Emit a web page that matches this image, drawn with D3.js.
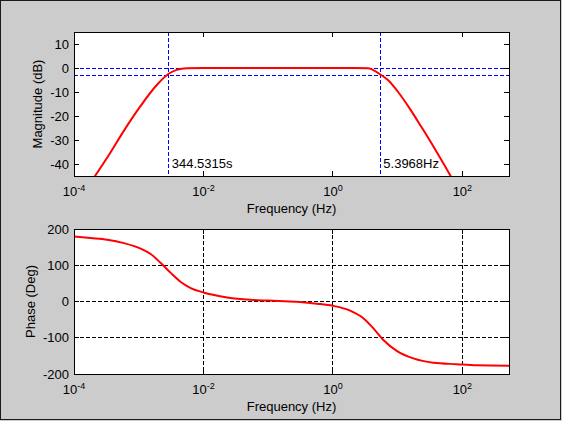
<!DOCTYPE html>
<html lang="en">
<head>
  <meta charset="utf-8">
  <title>bode</title>
  <style>
    html, body { margin: 0; padding: 0; background: #cccccc; }
    svg { display: block; font-family: "Liberation Sans", Arial, sans-serif; }
    .axis-line { shape-rendering: crispEdges; }
  </style>
</head>
<body>
<svg id="fig" width="562" height="421"></svg>

<script src="https://cdn.jsdelivr.net/npm/d3@7"></script>
<script>

// magnitude curve (Hz, dB)
const magFreq = [1.58e-4, 2.11e-4, 3.60e-4, 5.78e-4, 1.05e-3, 1.90e-3, 2.86e-3, 3.86e-3, 5.51e-3,
                 1.0e-2, 1.0e-1, 1.0, 2.16, 3.47, 5.26, 7.07, 10.1, 15.3, 23.2, 37.2, 65.8, 83];
const magDb   = [-50, -45, -35.5, -26.5, -16.1, -7.1, -2.5, -0.8, -0.1,
                 -0.03, 0, 0, 0, -0.1, -2.5, -5, -9.9, -16.8, -24.5, -33.5, -45, -50];

// phase curve (Hz, deg)
const phaseFreq = [1.0e-4, 1.81e-4, 3.27e-4, 5.93e-4, 1.07e-3, 1.53e-3, 2.19e-3, 3.12e-3, 4.46e-3,
                   6.35e-3, 1.0e-2, 1.46e-2, 2.2e-2, 3.67e-2, 6.0e-2, 0.1, 0.18, 0.31, 0.562, 1.0,
                   1.84, 2.95, 4.22, 6.01, 9.68, 17.5, 35.6, 81.8, 167, 525];
const phaseDeg  = [179, 175, 170.5, 161, 146, 131, 106, 79, 54,
                   37, 25, 18, 12, 7, 4, 2.5, 0.5, -1.5, -6, -12,
                   -25, -46, -74, -106, -136, -157, -169, -173, -176, -177];

const freqTicks = [1e-4, 1e-2, 1, 1e2];
const freqTickExp = ["-4", "-2", "0", "2"];
const magTicks = [10, 0, -10, -20, -30, -40];
const phaseTicks = [200, 100, 0, -100, -200];

// markers drawn on the magnitude plot
const lowCutSec = 344.5315;
const highCutHz = 5.3968;
const refLevels = [0, -3];

const W = 562, H = 421;
const svg = d3.select("#fig");

// figure frame
svg.append("rect").attr("x", 0).attr("y", 0).attr("width", W).attr("height", H).attr("fill", "#cccccc");
svg.append("rect").attr("class", "axis-line")
  .attr("x", 0.5).attr("y", 0.5).attr("width", 560).attr("height", 419)
  .attr("fill", "none").attr("stroke", "#1a1a1a");

const left = 74, right = 509;
const x = d3.scaleLog().domain([1e-4, Math.pow(10, 2.72)]).range([left, right]);

function makeAxes(top, bottom, yDomain, id) {
  const y = d3.scaleLinear().domain(yDomain).range([bottom, top]);
  const g = svg.append("g");
  g.append("rect").attr("class", "axis-line")
    .attr("x", left).attr("y", top).attr("width", right - left).attr("height", bottom - top)
    .attr("fill", "#ffffff");
  g.append("clipPath").attr("id", id)
    .append("rect").attr("x", left).attr("y", top).attr("width", right - left).attr("height", bottom - top);
  return {g: g, y: y, top: top, bottom: bottom};
}

function drawFrame(ax, yTicks, ylabel) {
  const g = ax.g, y = ax.y;
  const tl = 5;
  // ticks, inward, all four sides
  freqTicks.forEach(function(t) {
    g.append("line").attr("class", "axis-line")
      .attr("x1", x(t)).attr("x2", x(t)).attr("y1", ax.bottom).attr("y2", ax.bottom - tl).attr("stroke", "#000");
    g.append("line").attr("class", "axis-line")
      .attr("x1", x(t)).attr("x2", x(t)).attr("y1", ax.top).attr("y2", ax.top + tl).attr("stroke", "#000");
  });
  yTicks.forEach(function(t) {
    g.append("line").attr("class", "axis-line")
      .attr("x1", left).attr("x2", left + tl).attr("y1", y(t)).attr("y2", y(t)).attr("stroke", "#000");
    g.append("line").attr("class", "axis-line")
      .attr("x1", right).attr("x2", right - tl).attr("y1", y(t)).attr("y2", y(t)).attr("stroke", "#000");
  });
  g.append("rect").attr("class", "axis-line")
    .attr("x", left).attr("y", ax.top).attr("width", right - left).attr("height", ax.bottom - ax.top)
    .attr("fill", "none").attr("stroke", "#000");

  // tick labels
  g.selectAll("text.ytick").data(yTicks).enter().append("text")
    .attr("class", "ytick")
    .attr("x", left - 5).attr("y", function(d) { return y(d); })
    .attr("dy", "0.36em")
    .attr("text-anchor", "end").attr("font-size", 13)
    .text(function(d) { return d; });

  freqTicks.forEach(function(t, i) {
    const tx = g.append("text")
      .attr("x", x(t)).attr("y", ax.bottom + 20)
      .attr("text-anchor", "middle").attr("font-size", 13);
    tx.append("tspan").text("10");
    tx.append("tspan").attr("dy", -5).attr("font-size", 9).text(freqTickExp[i]);
  });

  g.append("text")
    .attr("x", (left + right) / 2).attr("y", ax.bottom + 37)
    .attr("text-anchor", "middle").attr("font-size", 13)
    .text("Frequency (Hz)");

  g.append("text")
    .attr("transform", "translate(" + ylabel.x + "," + ((ax.top + ax.bottom) / 2) + ") rotate(-90)")
    .attr("text-anchor", "middle").attr("font-size", 13)
    .text(ylabel.text);
}

/**
  magnitude
**/
const mag = makeAxes(32, 176, [-45, 15], "clipMag");

const cutFreqs = [1 / lowCutSec, highCutHz];
const cutLabels = [lowCutSec + "s", highCutHz + "Hz"];

cutFreqs.forEach(function(f) {
  mag.g.append("line").attr("class", "axis-line")
    .attr("x1", x(f)).attr("x2", x(f)).attr("y1", mag.top).attr("y2", mag.bottom)
    .attr("stroke", "#0000ff").attr("stroke-dasharray", "4,2");
});
refLevels.forEach(function(v) {
  mag.g.append("line").attr("class", "axis-line")
    .attr("x1", left).attr("x2", right).attr("y1", mag.y(v)).attr("y2", mag.y(v))
    .attr("stroke", "#0000ff").attr("stroke-dasharray", "4,2");
});

const magLine = d3.line()
  .x(function(d) { return x(d[0]); })
  .y(function(d) { return mag.y(d[1]); })
  .curve(d3.curveMonotoneX);

mag.g.append("path")
  .datum(d3.zip(magFreq, magDb))
  .attr("clip-path", "url(#clipMag)")
  .attr("d", magLine)
  .attr("fill", "none").attr("stroke", "#ff0000").attr("stroke-width", 2);

cutFreqs.forEach(function(f, i) {
  mag.g.append("text")
    .attr("x", x(f) + 3).attr("y", mag.bottom - 8)
    .attr("font-size", 13)
    .text(cutLabels[i]);
});

drawFrame(mag, magTicks, {x: 42, text: "Magnitude (dB)"});

/**
  phase
**/
const ph = makeAxes(229, 374, [-200, 200], "clipPh");

freqTicks.forEach(function(t) {
  ph.g.append("line").attr("class", "axis-line")
    .attr("x1", x(t)).attr("x2", x(t)).attr("y1", ph.top).attr("y2", ph.bottom)
    .attr("stroke", "#000").attr("stroke-dasharray", "4,2");
});
phaseTicks.forEach(function(t) {
  ph.g.append("line").attr("class", "axis-line")
    .attr("x1", left).attr("x2", right).attr("y1", ph.y(t)).attr("y2", ph.y(t))
    .attr("stroke", "#000").attr("stroke-dasharray", "4,2");
});

const phLine = d3.line()
  .x(function(d) { return x(d[0]); })
  .y(function(d) { return ph.y(d[1]); })
  .curve(d3.curveMonotoneX);

ph.g.append("path")
  .datum(d3.zip(phaseFreq, phaseDeg))
  .attr("clip-path", "url(#clipPh)")
  .attr("d", phLine)
  .attr("fill", "none").attr("stroke", "#ff0000").attr("stroke-width", 2);

drawFrame(ph, phaseTicks, {x: 35, text: "Phase (Deg)"});

</script>
</body>
</html>
